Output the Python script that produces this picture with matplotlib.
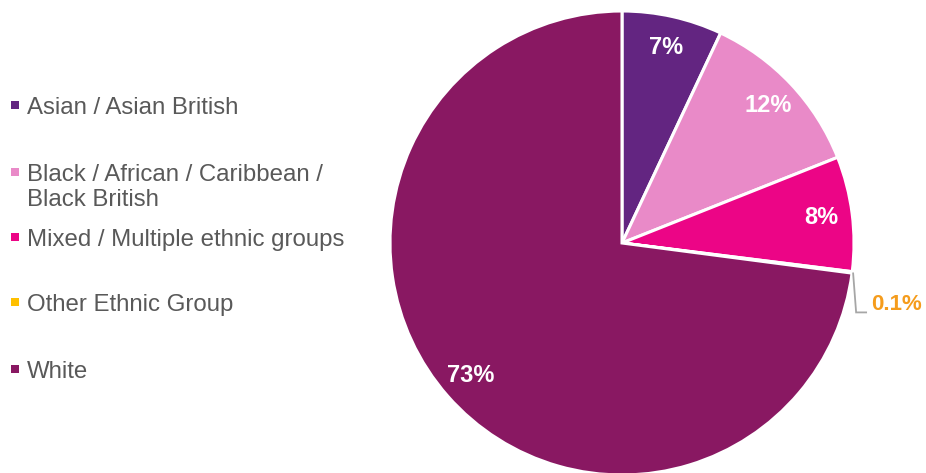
import numpy as np
import matplotlib.pyplot as plt
from matplotlib.patches import Rectangle

plt.rcParams['font.family'] = ['Liberation Sans', 'DejaVu Sans']

groups = ["Asian / Asian British", "Black / African / Caribbean /\nBlack British",
          "Mixed / Multiple ethnic groups", "Other Ethnic Group", "White"]
shares = [7, 12, 8, 0.1, 73]
colours = ["#632581", "#E98AC8", "#EC0586", "#FFC000", "#891862"]

W, H = 926, 473
fig = plt.figure(figsize=(W / 100, H / 100), dpi=100)
ax = fig.add_axes([0, 0, 1, 1])
ax.axis('off')

# axes units are pixels, so the pie can be placed directly
cx, cy, R = 622, 230, 232
wedges, _ = ax.pie(shares, colors=colours, startangle=90, counterclock=False,
                   center=(cx, cy), radius=R, normalize=True,
                   wedgeprops=dict(edgecolor='white', linewidth=2.2))
ax.set_xlim(0, W)
ax.set_ylim(0, H)
ax.set_aspect('equal')

# percentage labels inside the slices
for w, v in zip(wedges, shares):
    mid = np.deg2rad((w.theta1 + w.theta2) / 2)
    if v < 1:
        # tiny slice gets a leader line out to the right
        px, py = cx + R * np.cos(mid), cy + R * np.sin(mid)
        ax.plot([px + 1, px + 4, px + 14], [py - 1, py - 40, py - 40],
                color='#A6A6A6', lw=1.3, solid_joinstyle='miter')
        ax.text(px + 19, py - 32, f"{v:g}%", color='#F59C1C', fontsize=16,
                fontweight='bold', ha='left', va='center')
        continue
    tx, ty = cx + 0.865 * R * np.cos(mid), cy + 0.865 * R * np.sin(mid)
    ax.text(tx, ty, f"{v:g}%", color='white', fontsize=17, fontweight='bold',
            ha='center', va='center')

# legend on the left
legend_y = [105, 172, 237, 302, 369]
for name, col, y in zip(groups, colours, legend_y):
    ax.add_patch(Rectangle((11, H - y - 4), 8, 8, facecolor=col, edgecolor='none'))
    ax.text(27, H - y + 8, name, color='#595959', fontsize=17.3, ha='left',
            va='top', linespacing=1.2)

fig.savefig("out.png", dpi=100)
